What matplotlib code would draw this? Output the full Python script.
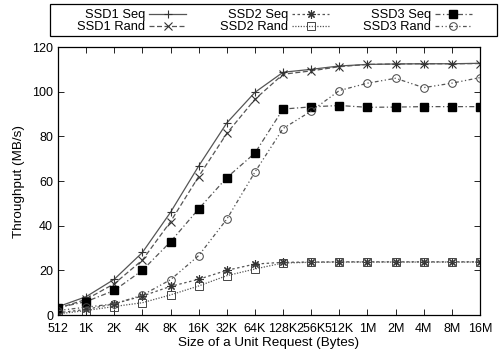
import numpy as np
import matplotlib
matplotlib.use("Agg")
import matplotlib.pyplot as plt
from matplotlib.patches import Rectangle

plt.rcParams.update({
    "font.family": ["Liberation Sans", "DejaVu Sans"],
    "font.size": 9.7,
    "xtick.direction": "in",
    "ytick.direction": "in",
    "xtick.top": True,
    "ytick.right": True,
})

# ---- DATA ----
sizes = ["512", "1K", "2K", "4K", "8K", "16K", "32K", "64K", "128K",
         "256K", "512K", "1M", "2M", "4M", "8M", "16M"]
ssd1_seq = [3.7, 8.2, 16, 28, 46, 66.7, 86, 99.7, 108.7, 110, 111.5,
            112.2, 112.4, 112.5, 112.5, 112.7]
ssd1_rand = [3.0, 7.0, 14, 24.6, 41.8, 62, 81.3, 96.6, 107.8, 109.3, 111.2,
             112.2, 112.4, 112.5, 112.5, 112.6]
ssd2_seq = [1.0, 2.5, 5.0, 8.5, 12.8, 16, 20, 22.8, 23.6, 23.7, 23.8,
            23.8, 23.8, 23.8, 23.8, 23.8]
ssd2_rand = [0.5, 2.0, 3.8, 5.5, 9.0, 13, 17.6, 20.6, 23.3, 23.6, 23.7,
             23.7, 23.7, 23.7, 23.7, 23.7]
ssd3_seq = [3.3, 6.0, 11, 20, 32.8, 47.5, 61.5, 72.5, 92.2, 93.2, 93.8,
            93.0, 93.1, 93.3, 93.3, 93.3]
ssd3_rand = [2.0, 3.5, 5.0, 8.9, 15.8, 26.6, 42.9, 64, 83.5, 91.3, 100.5,
             103.8, 106, 101.8, 103.8, 106.3]

# ---- PLOT ----
fig = plt.figure(figsize=(5, 3.5), dpi=100)
ax = fig.add_axes([58 / 500, 35 / 350, 422 / 500, 268 / 350])

x = np.arange(len(sizes))
lc = "#555555"
ax.plot(x, ssd1_seq, color=lc, lw=0.9, ls="-", marker="+", ms=6,
        mec="#333333", mew=0.8, label="SSD1 Seq")
ax.plot(x, ssd1_rand, color=lc, lw=0.9, ls=(0, (4, 2)), marker="x", ms=5.5,
        mec="#333333", mew=0.8, label="SSD1 Rand")
ax.plot(x, ssd2_seq, color=lc, lw=0.9, ls=(0, (2, 2)), marker=(8, 2, 0), ms=6,
        mec="#333333", mew=0.8, label="SSD2 Seq")
ax.plot(x, ssd2_rand, color=lc, lw=0.9, ls=(0, (1, 1.2)), marker="s", ms=5.5,
        mfc="none", mec="#444444", mew=0.7, label="SSD2 Rand")
ax.plot(x, ssd3_seq, color=lc, lw=0.9, ls=(0, (4, 2, 1, 2)), marker="s", ms=6,
        mfc="black", mec="black", label="SSD3 Seq")
ax.plot(x, ssd3_rand, color=lc, lw=0.9, ls=(0, (3, 2, 1, 2, 1, 2)), marker="o", ms=5.5,
        mfc="none", mec="#444444", mew=0.7, label="SSD3 Rand")

ax.set_xlim(0, len(sizes) - 1)
ax.set_ylim(0, 120)
ax.set_xticks(x)
ax.set_xticklabels(sizes)
ax.set_yticks(np.arange(0, 121, 20))
ax.tick_params(length=4, width=0.6, labelsize=9)
ax.tick_params(axis="x", pad=5.5)
ax.tick_params(axis="y", pad=3.5)
for s in ax.spines.values():
    s.set_linewidth(0.9)
ax.set_xlabel("Size of a Unit Request (Bytes)", labelpad=2)
ax.set_ylabel("Throughput (MB/s)", labelpad=5)

# legend box drawn separately, entries placed inside it
fig.add_artist(Rectangle((50 / 500, 1 - 36 / 350), 447 / 500, 32 / 350,
                         transform=fig.transFigure, fill=False,
                         edgecolor="black", linewidth=0.9))
leg = fig.legend(loc="upper left", bbox_to_anchor=(77 / 500, 1 - 9 / 350),
                 ncol=3, markerfirst=False, frameon=False, borderpad=0,
                 labelspacing=0.0, handlelength=2.9, handletextpad=0.3,
                 columnspacing=2.6, fontsize=9.3, borderaxespad=0)

fig.savefig("out.png", dpi=100)
